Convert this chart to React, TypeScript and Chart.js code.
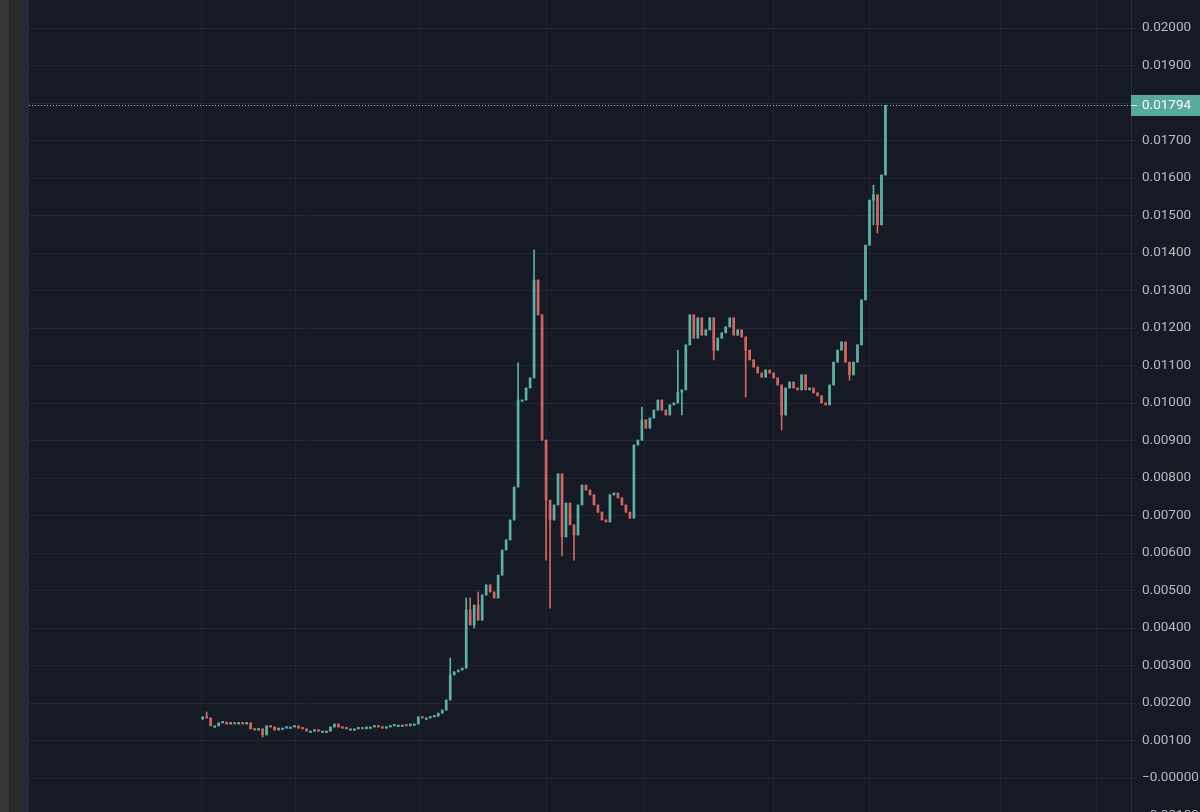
import React, { useEffect, useRef } from 'react';
import { Chart, registerables } from 'chart.js';

Chart.register(...registerables);

// ---- data ----
const firstOpen = 0.00157;

const closes: number[] = [
  0.00163, 0.0016, 0.00139, 0.00139, 0.00147, 0.00149, 0.00144, 0.00147, 0.00144, 0.00147,
  0.00144, 0.00147, 0.00131, 0.00128, 0.00131, 0.00115, 0.00139, 0.00136, 0.00128, 0.00133,
  0.00133, 0.00136, 0.00136, 0.00139, 0.00133, 0.00131, 0.00125, 0.00125, 0.00128, 0.00125,
  0.00125, 0.00125, 0.00136, 0.00144, 0.00136, 0.00133, 0.00131, 0.00131, 0.00131, 0.00133,
  0.00131, 0.00136, 0.00136, 0.00139, 0.00136, 0.00133, 0.00136, 0.00139, 0.00141, 0.00141,
  0.00141, 0.00139, 0.00144, 0.00144, 0.00163, 0.0016, 0.0016, 0.00163, 0.00165, 0.00173,
  0.00181, 0.00208, 0.00275, 0.00283, 0.00288, 0.00293, 0.00448, 0.00408, 0.00461, 0.00421,
  0.00488, 0.00515, 0.00496, 0.0048, 0.00541, 0.00608, 0.00635, 0.00688, 0.00776, 0.01008,
  0.01008, 0.0104, 0.01067, 0.01328, 0.01235, 0.00901, 0.00741, 0.00688, 0.00728, 0.00811,
  0.00643, 0.00733, 0.00675, 0.00648, 0.00728, 0.00781, 0.00768, 0.00755, 0.00728, 0.00709,
  0.00688, 0.00683, 0.00755, 0.0076, 0.00747, 0.00728, 0.00709, 0.00693, 0.00888, 0.00901,
  0.00955, 0.00933, 0.0096, 0.00981, 0.01008, 0.00981, 0.00968, 0.00995, 0.01, 0.01029,
  0.01035, 0.01155, 0.01235, 0.01173, 0.01227, 0.01181, 0.01195, 0.01227, 0.01141, 0.01173,
  0.01187, 0.01203, 0.01227, 0.01181, 0.01195, 0.01176, 0.01141, 0.01115, 0.01096, 0.0108,
  0.01069, 0.01088, 0.0108, 0.01067, 0.01048, 0.00968, 0.0104, 0.01056, 0.0104, 0.01035,
  0.01075, 0.01035, 0.0104, 0.01027, 0.01019, 0.01, 0.00995, 0.01048, 0.01109, 0.01141,
  0.01163, 0.01109, 0.01075, 0.01109, 0.01155, 0.01275, 0.01421, 0.01541, 0.01555, 0.01475,
  0.01608, 0.01794,
];

// [candle index, price] wick extremes beyond the body
const wickHighs: [number, number][] = [
  [1, 0.00176], [62, 0.0032], [66, 0.0048], [67, 0.0048], [69, 0.00496], [79, 0.01107],
  [83, 0.01408], [110, 0.00989], [119, 0.01141], [168, 0.01581],
];
const wickLows: [number, number][] = [
  [15, 0.00109], [68, 0.004], [86, 0.00581], [87, 0.00453], [90, 0.00592], [93, 0.00581],
  [120, 0.00968], [128, 0.01115], [136, 0.01016], [145, 0.00928], [162, 0.01061],
  [167, 0.01451], [168, 0.01475], [169, 0.01453],
];

const leadingEmptySlots = 43;
const totalSlots = 276;
const timeGridSlots = [42.6, 66.1, 97.1, 129.1, 153.5, 185.8, 209.8, 242.7, 266.7];

const yMin = -0.00192;
const yMax = 0.020747;
const yStep = 0.001;

// ---- styles ----
const BG = '#161a25';
const GRID = '#232733';
const VGRID = '#1f2330';
const AXIS_BORDER = '#2a2e3a';
const TEXT = '#b7bac2';
const UP = '#5ab3a4';
const DOWN = '#d6655f';
const PRICE_BOX = '#56a99b';
const FONT = { family: 'Roboto', size: 13.5 };

function fmt(v: number): string {
  const r = Math.round(v * 1e5) / 1e5;
  if (r === 0) return '\u22120.00000';
  if (r < 0) return '\u2212' + Math.abs(r).toFixed(5);
  return r.toFixed(5);
}

export default function App() {
  const ref = useRef<HTMLCanvasElement>(null);

  useEffect(() => {
    document.body.style.margin = '0';
    document.body.style.overflow = 'hidden';
    document.body.style.background = BG;

    const opens = closes.map((c, i) => (i === 0 ? firstOpen : closes[i - 1]));
    const highs = closes.map((c, i) => Math.max(c, opens[i]));
    const lows = closes.map((c, i) => Math.min(c, opens[i]));
    wickHighs.forEach(([k, v]) => { highs[k] = Math.max(highs[k], v); });
    wickLows.forEach(([k, v]) => { lows[k] = Math.min(lows[k], v); });

    const labels = Array.from({ length: totalSlots }, (_, i) => String(i));
    const pad: any[] = Array(leadingEmptySlots).fill(null);
    const bodies = pad.concat(closes.map((c, i) => [opens[i], c]));
    const wicks = pad.concat(closes.map((c, i) => [lows[i], highs[i]]));
    const colors = Array(leadingEmptySlots).fill(UP).concat(
      closes.map((c, i) => (c >= opens[i] ? UP : DOWN))
    );

    const vGridPlugin = {
      id: 'vgrid',
      beforeDatasetsDraw(chart: any) {
        const { ctx, chartArea } = chart;
        const xs = chart.scales.x;
        ctx.save();
        ctx.strokeStyle = VGRID;
        ctx.lineWidth = 1;
        timeGridSlots.forEach((s) => {
          const x = Math.round(xs.getPixelForValue(s)) + 0.5;
          ctx.beginPath();
          ctx.moveTo(x, chartArea.top);
          ctx.lineTo(x, chartArea.bottom);
          ctx.stroke();
        });
        ctx.restore();
      },
    };

    const priceLinePlugin = {
      id: 'priceLine',
      afterDraw(chart: any) {
        const { ctx, chartArea, width } = chart;
        const ys = chart.scales.y;
        const last = closes[closes.length - 1];
        const y = Math.round(ys.getPixelForValue(last));
        ctx.save();
        ctx.strokeStyle = '#8fb8b1';
        ctx.lineWidth = 1;
        ctx.setLineDash([1, 2]);
        ctx.beginPath();
        ctx.moveTo(chartArea.left, y + 0.5);
        ctx.lineTo(chartArea.right, y + 0.5);
        ctx.stroke();
        ctx.setLineDash([]);
        ctx.fillStyle = PRICE_BOX;
        ctx.fillRect(chartArea.right, y - 10, width - chartArea.right, 21);
        ctx.fillStyle = '#ffffff';
        ctx.fillRect(chartArea.right + 1, y, 5, 1);
        ctx.font = `${FONT.size}px ${FONT.family}`;
        ctx.textBaseline = 'middle';
        ctx.textAlign = 'left';
        ctx.fillText(fmt(last), chartArea.right + 11, y + 1);
        ctx.restore();
      },
    };

    const chart = new Chart(ref.current as HTMLCanvasElement, {
      type: 'bar',
      data: {
        labels,
        datasets: [
          {
            data: bodies as any,
            backgroundColor: colors,
            barThickness: 2,
            borderWidth: 0,
            borderSkipped: false,
            minBarLength: 1.5,
            grouped: false,
            order: 0,
          } as any,
          {
            data: wicks as any,
            backgroundColor: colors,
            barThickness: 1,
            borderWidth: 0,
            borderSkipped: false,
            grouped: false,
            order: 1,
          } as any,
        ],
      },
      options: {
        animation: false,
        responsive: false,
        events: [],
        layout: { padding: 0 },
        plugins: { legend: { display: false }, tooltip: { enabled: false } },
        scales: {
          x: { display: false, offset: true },
          y: {
            position: 'right',
            min: yMin,
            max: yMax,
            grid: { color: GRID, lineWidth: 1, drawTicks: true, tickLength: 5 },
            border: { display: true, color: AXIS_BORDER },
            ticks: {
              stepSize: yStep,
              maxTicksLimit: 100,
              includeBounds: false,
              padding: 6,
              color: TEXT,
              font: FONT,
              callback: (v: any) => fmt(Number(v)),
            },
            afterFit: (s: any) => {
              s.width = 69;
              s.paddingTop = 0;
              s.paddingBottom = 0;
            },
          } as any,
        },
      },
      plugins: [vGridPlugin, priceLinePlugin],
    });

    return () => chart.destroy();
  }, []);

  return (
    <div style={{ position: 'absolute', left: 0, top: 0, width: 1200, height: 850, background: BG, overflow: 'hidden' }}>
      <div style={{ position: 'absolute', left: 0, top: 0, width: 9, height: 850, background: '#363636' }} />
      <div style={{ position: 'absolute', left: 9, top: 0, width: 10, height: 850, background: '#2a2a29' }} />
      <div style={{ position: 'absolute', left: 19, top: 0, width: 10, height: 850, background: '#262a36' }} />
      <canvas ref={ref} width={1171} height={850} style={{ position: 'absolute', left: 29, top: 0, display: 'block' }} />
    </div>
  );
}
